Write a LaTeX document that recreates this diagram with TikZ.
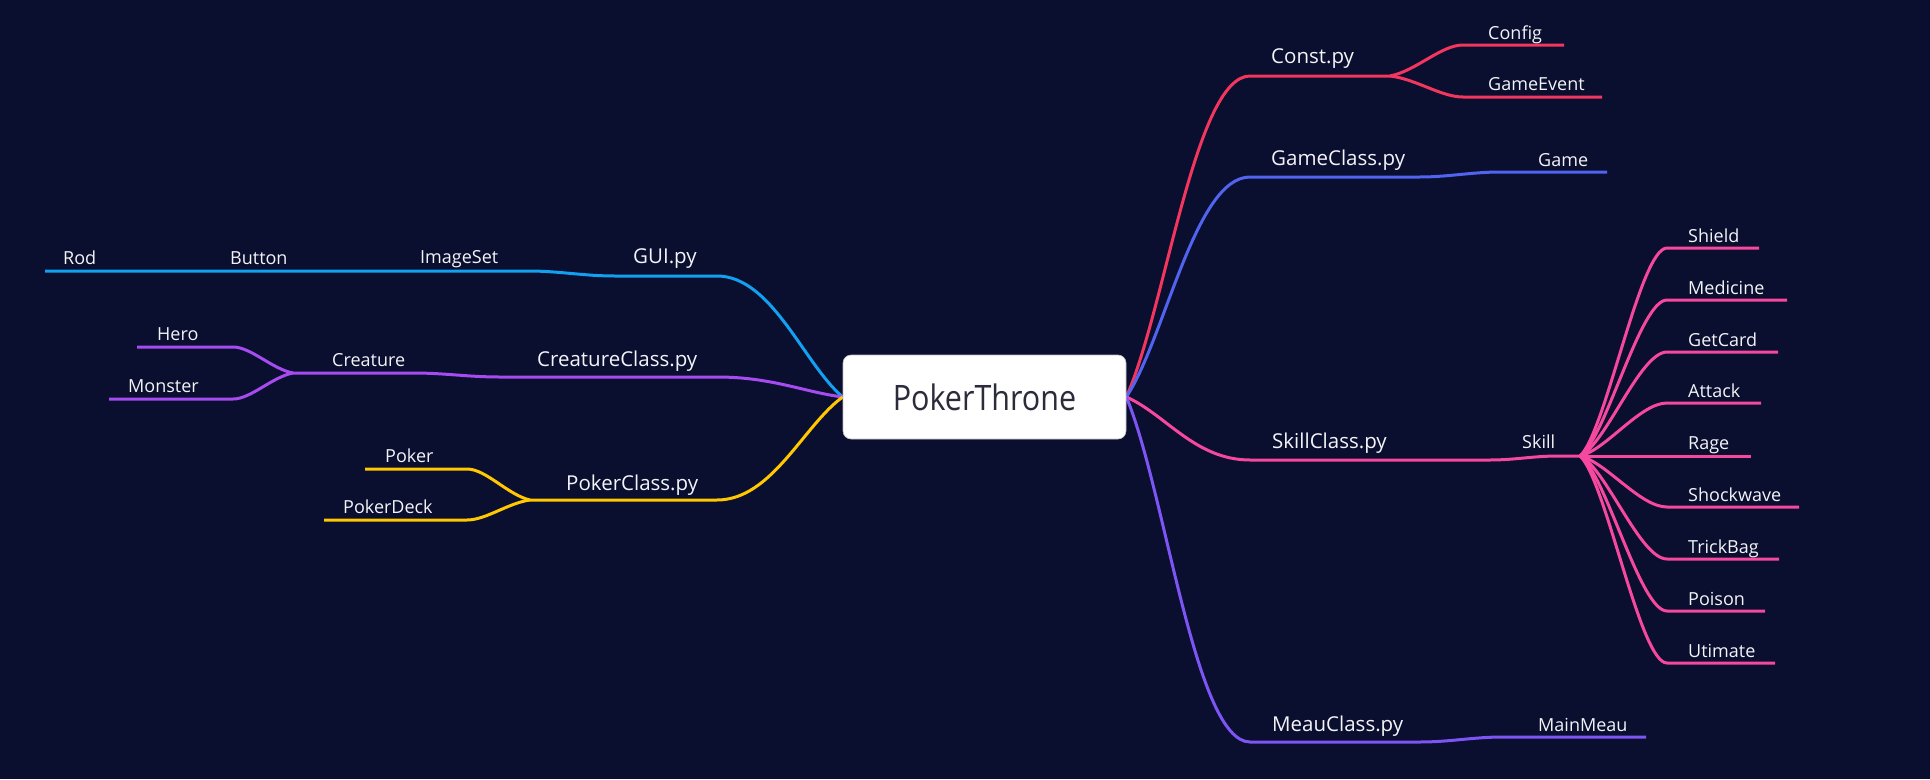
\documentclass[tikz,border=0pt]{standalone}
\usepackage{fontspec}
\setmainfont{Open Sans}
\usepackage{graphicx}
\pgfdeclarelayer{bg}
\pgfdeclarelayer{lines}
\pgfsetlayers{bg,lines,main}
\definecolor{bgc}{HTML}{0A0E2F}
\definecolor{txtc}{HTML}{F4F4F8}
\definecolor{rootc}{HTML}{2B2B3A}
\definecolor{cconst}{HTML}{F2365E}
\definecolor{cgame}{HTML}{5064F0}
\definecolor{cskill}{HTML}{F6489E}
\definecolor{cmeau}{HTML}{7D55F5}
\definecolor{cgui}{HTML}{12A0F0}
\definecolor{ccrea}{HTML}{A54BF0}
\definecolor{cpoker}{HTML}{FFC800}
\begin{document}
\begin{tikzpicture}[x=1pt,y=-1pt,
  lvtwo/.style={anchor=base west, inner sep=0pt, text=txtc, font=\fontsize{20.5}{24}\selectfont},
  lvthree/.style={anchor=base west, inner sep=0pt, text=txtc, font=\fontsize{18}{21}\selectfont},
  brc/.style={line width=3pt, line join=round}]
\useasboundingbox (0,0) rectangle (1930,779);
\begin{pgfonlayer}{bg}
\fill[bgc] (0,0) rectangle (1930,779);
\end{pgfonlayer}

% root
\node[fill=white, draw=black!25, line width=0.6pt, rounded corners=8pt, minimum width=283pt, minimum height=84pt, inner sep=0pt, text=rootc, font=\fontsize{30.5}{34}\selectfont] (root) at (984.5,397) {\scalebox{1}[1.15]{PokerThrone}};

% ---------- right side texts ----------
\node[lvtwo] (const) at (1271,63) {Const.py};
\node[lvthree] (config) at (1488,39) {Config};
\node[lvthree] (gevent) at (1488,90) {GameEvent};
\node[lvtwo] (gclass) at (1271,165) {GameClass.py};
\node[lvthree] (game) at (1538,166) {Game};
\node[lvtwo] (sclass) at (1272,448) {SkillClass.py};
\node[lvthree] (skill) at (1522,448) {Skill};
\node[lvthree] (shield) at (1688,242) {Shield};
\node[lvthree] (medicine) at (1688,294) {Medicine};
\node[lvthree] (getcard) at (1688,346) {GetCard};
\node[lvthree] (attack) at (1688,397) {Attack};
\node[lvthree] (rage) at (1688,449) {Rage};
\node[lvthree] (shock) at (1688,501) {Shockwave};
\node[lvthree] (trick) at (1688,553) {TrickBag};
\node[lvthree] (poison) at (1688,605) {Poison};
\node[lvthree] (utimate) at (1688,657) {Utimate};
\node[lvtwo] (mclass) at (1272,731) {MeauClass.py};
\node[lvthree] (mainmeau) at (1538,731) {MainMeau};

% ---------- left side texts ----------
\node[lvtwo] (gui) at (633,263) {GUI.py};
\node[lvthree] (imageset) at (420,263) {ImageSet};
\node[lvthree] (button) at (230,264) {Button};
\node[lvthree] (rod) at (63,264) {Rod};
\node[lvtwo] (cclass) at (537,366) {CreatureClass.py};
\node[lvthree] (creature) at (332,366) {Creature};
\node[lvthree] (hero) at (157,340) {Hero};
\node[lvthree] (monster) at (128,392) {Monster};
\node[lvtwo] (pclass) at (566,490) {PokerClass.py};
\node[lvthree] (poker) at (385,462) {Poker};
\node[lvthree] (pdeck) at (343,513) {PokerDeck};

% ---------- underline coordinates ----------
\coordinate (constL) at (1250,76); \coordinate (constR) at (1390,76);
\coordinate (cfgL) at (1463,45); \coordinate (cfgR) at (1564,45);
\coordinate (geL) at (1463,97); \coordinate (geR) at (1602,97);
\coordinate (gcL) at (1250,177); \coordinate (gcR) at (1420,177);
\coordinate (gmL) at (1500,172); \coordinate (gmR) at (1607,172);
\coordinate (scL) at (1250,460); \coordinate (scR) at (1490,460);
\coordinate (skL) at (1558,456); \coordinate (skR) at (1580,456);
\coordinate (shL) at (1667,248); \coordinate (shR) at (1759,248);
\coordinate (meL) at (1667,300); \coordinate (meR) at (1787,300);
\coordinate (gtL) at (1667,352); \coordinate (gtR) at (1778,352);
\coordinate (atL) at (1667,403); \coordinate (atR) at (1761,403);
\coordinate (raL) at (1667,456); \coordinate (raR) at (1751,456);
\coordinate (swL) at (1667,507); \coordinate (swR) at (1799,507);
\coordinate (tbL) at (1667,559); \coordinate (tbR) at (1779,559);
\coordinate (poL) at (1667,611); \coordinate (poR) at (1765,611);
\coordinate (utL) at (1667,663); \coordinate (utR) at (1775,663);
\coordinate (mcL) at (1250,742); \coordinate (mcR) at (1420,742);
\coordinate (mmL) at (1503,737); \coordinate (mmR) at (1646,737);

\coordinate (guiR) at (717,276); \coordinate (guiL) at (615,276);
\coordinate (imgR) at (528,271); \coordinate (imgL) at (390,271);
\coordinate (btnL) at (212,271); \coordinate (rodL) at (45,271);
\coordinate (ccR) at (717,377); \coordinate (ccL) at (500,377);
\coordinate (crR) at (413,373); \coordinate (crJ) at (293,373);
\coordinate (heroR) at (233,347); \coordinate (heroL) at (137,347);
\coordinate (monR) at (233,399); \coordinate (monL) at (109,399);
\coordinate (pcR) at (717,500); \coordinate (pcJ) at (530,500);
\coordinate (pkR) at (467,469); \coordinate (pkL) at (365,469);
\coordinate (pdR) at (467,520); \coordinate (pdL) at (324,520);

% ---------- connectors ----------
\begin{pgfonlayer}{lines}
% Const
\draw[brc,cconst] (root.east) .. controls +(39,-87) and +(-55,0) .. (constL) -- (constR);
\draw[brc,cconst] (constR) .. controls +(26,-5) and +(-22,0) .. (cfgL) -- (cfgR);
\draw[brc,cconst] (constR) .. controls +(26,3) and +(-22,0) .. (geL) -- (geR);
% GameClass
\draw[brc,cgame] (root.east) .. controls +(39,-59) and +(-55,0) .. (gcL) -- (gcR)
  .. controls +(28,0) and +(-28,0) .. (gmL) -- (gmR);
% SkillClass
\draw[brc,cskill] (root.east) .. controls +(39,17) and +(-55,0) .. (scL) -- (scR)
  .. controls +(25,0) and +(-25,0) .. (skL) -- (skR);
\draw[brc,cskill] (skR) .. controls +(26,-24) and +(-27,0) .. (shL) -- (shR);
\draw[brc,cskill] (skR) .. controls +(26,-18) and +(-27,0) .. (meL) -- (meR);
\draw[brc,cskill] (skR) .. controls +(26,-12) and +(-27,0) .. (gtL) -- (gtR);
\draw[brc,cskill] (skR) .. controls +(26,-6) and +(-27,0) .. (atL) -- (atR);
\draw[brc,cskill] (skR) -- (raL) -- (raR);
\draw[brc,cskill] (skR) .. controls +(26,6) and +(-27,0) .. (swL) -- (swR);
\draw[brc,cskill] (skR) .. controls +(26,12) and +(-27,0) .. (tbL) -- (tbR);
\draw[brc,cskill] (skR) .. controls +(26,18) and +(-27,0) .. (poL) -- (poR);
\draw[brc,cskill] (skR) .. controls +(26,24) and +(-27,0) .. (utL) -- (utR);
% MeauClass
\draw[brc,cmeau] (root.east) .. controls +(39,93) and +(-55,0) .. (mcL) -- (mcR)
  .. controls +(30,0) and +(-30,0) .. (mmL) -- (mmR);
% GUI
\draw[brc,cgui] (root.west) .. controls +(-39,-33) and +(55,0) .. (guiR) -- (guiL)
  .. controls +(-32,0) and +(32,0) .. (imgR) -- (imgL) -- (btnL) -- (rodL);
% Creature
\draw[brc,ccrea] (root.west) .. controls +(-39,-5) and +(55,0) .. (ccR) -- (ccL)
  .. controls +(-33,0) and +(33,0) .. (crR) -- (crJ);
\draw[brc,ccrea] (crJ) .. controls +(-21,-4) and +(18,0) .. (heroR) -- (heroL);
\draw[brc,ccrea] (crJ) .. controls +(-21,4) and +(18,0) .. (monR) -- (monL);
% Poker
\draw[brc,cpoker] (root.west) .. controls +(-39,28) and +(55,0) .. (pcR) -- (pcJ);
\draw[brc,cpoker] (pcJ) .. controls +(-22,-5) and +(19,0) .. (pkR) -- (pkL);
\draw[brc,cpoker] (pcJ) .. controls +(-22,3) and +(19,0) .. (pdR) -- (pdL);
\end{pgfonlayer}
\end{tikzpicture}
\end{document}
